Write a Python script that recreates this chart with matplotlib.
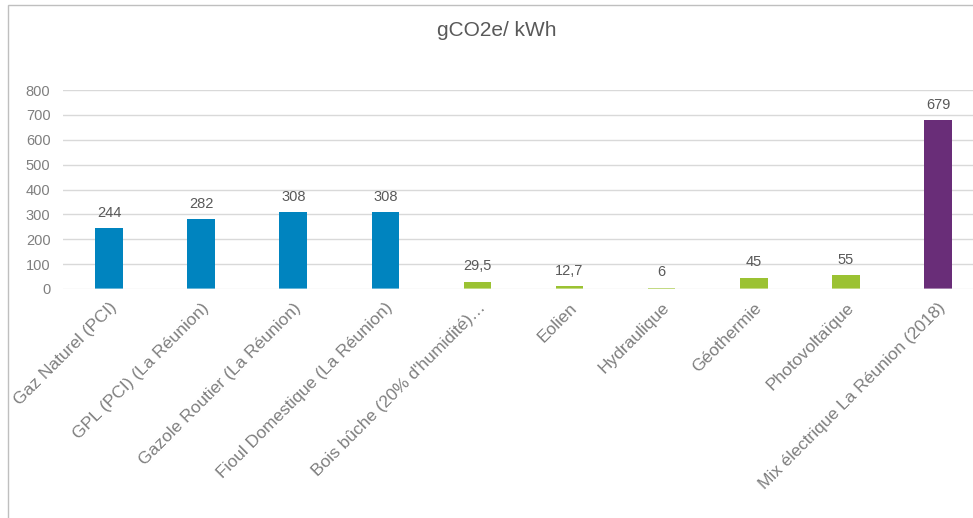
import matplotlib.pyplot as plt
from matplotlib.patches import Rectangle

categories = ["Gaz Naturel (PCI)", "GPL (PCI) (La Réunion)", "Gazole Routier (La Réunion)",
              "Fioul Domestique (La Réunion)", "Bois bûche (20% d'humidité)…", "Eolien",
              "Hydraulique", "Géothermie", "Photovoltaïque", "Mix électrique La Réunion (2018)"]
values = [244, 282, 308, 308, 29.5, 12.7, 6, 45, 55, 679]
value_labels = ["244", "282", "308", "308", "29,5", "12,7", "6", "45", "55", "679"]
groups = ["fossil"] * 4 + ["renew"] * 5 + ["mix"]
yticks = [0, 100, 200, 300, 400, 500, 600, 700, 800]

colors = {"fossil": "#0084BF", "renew": "#9BC232", "mix": "#692D78"}
plt.rcParams['font.family'] = ['Liberation Sans', 'DejaVu Sans']

W, H = 973, 518
fig = plt.figure(figsize=(W / 100, H / 100), dpi=100)

# outer chart border (left and top only visible)
fig.patches.append(Rectangle((8 / W, -0.1), 2, 1 - 5 / H + 0.1, transform=fig.transFigure,
                             fill=False, edgecolor="#bfbfbf", lw=1))

ax = fig.add_axes([63 / W, 1 - 289 / H, 921 / W, 199 / H])
x = range(len(categories))
bars = ax.bar(x, values, width=0.3, color=[colors[g] for g in groups], zorder=2)
ax.axhline(0, color="white", alpha=0.45, lw=2, zorder=3)

for xi, v, lab in zip(x, values, value_labels):
    ax.annotate(lab, (xi, v), xytext=(0, 6), textcoords="offset points",
                ha="center", va="bottom", fontsize=10.5, color="#595959")

ax.set_xlim(-0.5, len(categories) - 0.5)
ax.set_ylim(0, 800)
ax.set_yticks(yticks)
ax.set_yticklabels([str(t) for t in yticks], fontsize=10.5, color="#7f7f7f")
ax.set_xticks(list(x))
ax.set_xticklabels(categories, rotation=45, ha="right", rotation_mode="anchor",
                   fontsize=12.5, color="#7f7f7f")
ax.tick_params(axis="both", length=0)
ax.tick_params(axis="y", pad=9)
ax.tick_params(axis="x", pad=8)
ax.grid(axis="y", color="#d9d9d9", lw=1, zorder=0)
ax.set_axisbelow(True)
for s in ax.spines.values():
    s.set_visible(False)

fig.text(497 / W, 1 - 30 / H, "gCO2e/ kWh", ha="center", va="center",
         fontsize=15, color="#595959")

fig.savefig("out.png", dpi=100)
